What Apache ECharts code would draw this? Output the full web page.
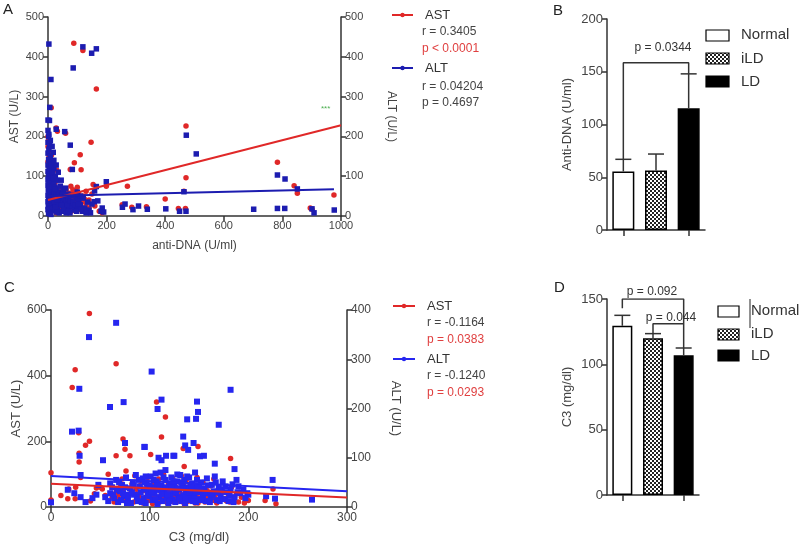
<!DOCTYPE html>
<html><head><meta charset="utf-8">
<script src="https://cdn.jsdelivr.net/npm/echarts@6/dist/echarts.min.js"></script>
<style>html,body{margin:0;padding:0;background:#fff}#c{width:800px;height:551px}</style>
</head><body><div id="c"></div>
<script>
// ---------- Panel A data (anti-DNA vs AST / ALT) ----------
const aAST = [[88,434],[119,416],[165,319],[11,272],[28,221],[32,213],[60,208],[147,185],[110,154],[90,134],[113,116],[30,115],[76,117],[471,226],[471,96],[783,135],[840,76],[851,57],[976,53],[895,20],[901,17],[400,43],[271,75],[253,28],[286,22],[336,23],[445,19],[469,19],[464,62],[199,75],[154,79],[0,200],[2,190],[4,176],[0,174],[8,160],[12,153],[6,140],[0,136],[3,125],[14,110],[20,100],[5,95],[10,88],[24,84],[18,78],[30,70],[40,66],[48,64],[55,66],[62,68],[70,58],[78,75],[85,66],[95,62],[105,55],[120,50],[130,30],[110,25],[95,22],[72,28],[60,35],[45,20],[35,30],[25,45],[15,55],[8,62],[3,50],[12,40],[20,18],[5,12],[28,8],[40,10],[50,42],[65,45],[88,40],[100,72],[140,40],[160,25],[175,12],[185,8],[80,12],[115,35],[130,62],[150,55],
[16,95],[22,70],[36,62],[44,55],[52,48],[58,58],[66,52],[75,48],[82,55],[90,50],[98,44],[108,45],[125,42],[26,35],[34,22],[42,28],[56,15],[64,20],[86,26],[102,15],[118,20],[140,20],[6,80],[2,110],[9,120],[4,150],[12,70],[18,60]];
const aALT = [[3,432],[119,425],[165,420],[149,409],[86,372],[10,343],[6,273],[0,241],[5,240],[28,218],[57,212],[76,178],[83,117],[472,203],[506,156],[783,103],[809,93],[851,68],[199,86],[159,63],[464,61],[254,22],[263,30],[290,16],[309,25],[339,17],[402,18],[449,12],[471,12],[702,17],[783,19],[808,19],[901,18],[908,8],[977,15],[181,12],[158,36],[165,74],[170,38],[185,20],[190,10],
[0,215],[2,200],[0,185],[6,178],[3,168],[0,158],[8,150],[2,142],[5,135],[0,128],[10,124],[4,118],[0,112],[7,108],[12,104],[2,100],[6,96],[0,92],[9,88],[14,85],[3,82],[0,78],[11,75],[5,72],[16,70],[1,66],[8,63],[13,60],[3,56],[0,52],[10,50],[6,46],[15,44],[2,40],[0,36],[9,34],[4,30],[12,27],[1,24],[7,20],[0,16],[14,14],[5,10],[2,6],[10,4],
[20,120],[25,100],[30,90],[18,95],[22,60],[28,55],[35,48],[40,60],[45,38],[50,30],[55,22],[32,15],[38,8],[48,12],[58,50],[60,25],[42,75],[26,30],[36,28],[52,65],
[65,40],[72,18],[80,30],[90,15],[100,22],[110,28],[118,12],[125,20],[135,35],[140,15],[145,8],[95,45],[105,40],[130,8],[85,52],[120,45],[150,30],[75,8],[68,55],
[20,80],[24,72],[30,66],[34,58],[38,52],[44,50],[50,55],[56,44],[62,36],[66,28],[70,44],[76,38],[82,24],[86,34],[92,28],[98,12],[104,30],[112,18],[18,40],[22,35],[26,22],[30,10],[40,32],[46,26],[54,14],[62,8],[70,12],[16,110],[12,130],[20,140],[18,160],[8,190],[14,175],[3,205],[24,68],[32,40],[100,60],[110,50],[60,70],[45,90],[35,110],[28,128]];
const aASTfit = [[0,40],[1000,228]];
const aALTfit = [[0,50],[976,67]];

// ---------- Panel B data ----------
const groups = ['Normal','iLD','LD'];
const bMean = [55.5, 56.5, 115.5];
const bUpper = [67, 72, 148];
const bBracket = [[0,67],[0,158.5],[2,158.5],[2,148]];

// ---------- Panel C data (C3 vs AST / ALT) ----------
const cAST = [[38.9,589],[66,436],[24.5,418],[21.5,364],[28,226],[39,200],[35,188],[28.5,164],[28.5,137],[107,320],[112,213],[116,274],[101,160],[182,148],[0,104],[0,21],[17,25],[24.5,25],[73,207],[75,176],[80,156],[66,156],[58,100],[46,58],[52,55],[134,178],[135,123],[149,184],
[62,30],[66,45],[70,60],[72,85],[74,20],[76,110],[78,35],[80,55],[82,70],[84,15],[85,95],[87,40],[88,25],[90,65],[92,80],[93,12],[95,50],[96,30],[98,90],[99,20],[100,60],[102,42],[103,10],[104,75],[105,35],[106,55],[108,25],[109,85],[110,15],[111,48],[112,65],[113,30],[114,100],[115,20],[116,58],[117,40],[118,12],[119,72],[120,35],[121,50],[122,22],[123,88],[124,45],[125,15],[126,62],[127,30],[128,78],[129,18],[130,52],[131,38],[132,95],[133,25],[134,68],[135,10],[136,44],[137,82],[138,28],[139,56],[140,18],[141,70],[142,35],[143,48],[144,22],[145,60],[146,12],[147,40],[148,90],[149,28],[150,55],[152,20],[154,75],[155,35],[156,15],[158,50],[160,30],[162,65],[164,20],[165,85],[167,40],[168,12],[170,55],[172,25],[175,45],[178,18],[180,35],[183,60],[185,22],[188,40],[190,15],[193,30],[196,12],[198,25],[200,20],[217,20],[225,55],[228,10],[68,25],[55,35],[50,60],[44,40],[40,18],[30,90],[25,60],[18,55],[10,35],
[64,15],[69,38],[73,52],[77,25],[81,42],[86,55],[89,32],[94,22],[97,68],[101,28],[105,18],[107,70],[111,32],[113,50],[117,25],[121,65],[125,38],[129,45],[133,58],[137,15],[141,30],[145,48],[149,12],[153,38],[157,28],[161,45],[166,30],[171,38],[176,25],[181,15],[186,30],[191,45]];
const cALT = [[66,374],[38.5,345],[102,275],[28.7,240],[112,218],[108,199],[73.6,213],[59.8,203],[148,214],[149,193],[147,179],[182,238],[170,167],[21.3,153],[28,155],[29,104],[136,125],[75,130],[94.6,122],[116.6,104],[124,104],[139,116],[151,103],[155,104],[166,88],[186,77],[52.7,95],[30,65],[17,35],[23.6,28],[0,9.5],[227,17],[224.6,55],[264.5,15],[218,22],[199,28],[134,143],[144.5,130],[112,95],[109,100],[125,104],[138,178],[95,122],
[55,20],[58,12],[60,28],[62,40],[64,18],[66,55],[68,10],[70,32],[72,45],[74,22],[76,60],[78,15],[80,38],[81,8],[83,50],[85,25],[86,65],[88,12],[90,42],[91,30],[93,58],[94,18],[96,8],[97,48],[99,35],[100,22],[101,62],[103,14],[104,40],[105,28],[107,52],[108,6],[109,36],[110,20],[111,70],[112,44],[113,12],[115,30],[116,55],[117,18],[118,38],[119,8],[120,48],[121,25],[122,60],[123,15],[124,34],[125,42],[126,10],[127,28],[128,52],[129,20],[130,36],[131,65],[132,12],[133,45],[134,24],[135,55],[136,8],[137,32],[138,40],[139,18],[140,60],[141,26],[142,14],[143,48],[144,36],[145,22],[146,70],[147,10],[148,42],[150,30],[151,16],[152,50],[154,24],[155,38],[157,12],[158,58],[160,28],[162,20],[163,45],[165,32],[166,62],[168,14],[170,40],[172,22],[174,52],[176,16],[178,30],[180,12],[182,36],[184,46],[186,20],[188,55],[190,42],[192,28],[195,35],[197,18],[200,25],[46,25],[42,18],[35,10],[30,20],[48,45],
[60,48],[63,25],[67,35],[69,50],[71,14],[73,28],[75,40],[77,8],[79,25],[82,30],[84,44],[87,20],[89,55],[92,10],[94,36],[95,50],[98,26],[100,44],[102,32],[104,55],[106,16],[108,46],[110,35],[112,26],[114,60],[116,40],[118,26],[120,12],[122,40],[124,52],[126,30],[128,38],[130,18],[132,50],[134,38],[136,20],[138,62],[140,30],[142,42],[144,12],[146,30],[148,55],[150,40],[153,14],[156,30],[159,44],[161,10],[164,26],[167,50],[169,30],[171,12],[173,36],[177,42],[181,24],[185,10],[189,30],[96,62],[106,68],[116,75],[128,66]];
const cASTfit = [[0,71],[300,29]];
const cALTfit = [[0,63],[300,32]];

// ---------- Panel D data ----------
const dMean = [129.5, 120, 107];
const dUpper = [137.5, 123.5, 112.5];
const dBracket1 = [[0,143],[0,150],[2,150],[2,112.5]];
const dBracket2 = [[1,123.5],[1,131],[2,131]];

// ---------- styling ----------
const FONT = 'Liberation Sans, Arial, sans-serif';
const RED = '#e02828', BLUE_A = '#1c1cb0', BLUE_C = '#2626f0', AX = '#333', TXT = '#444';

const pc = document.createElement('canvas'); pc.width = 4; pc.height = 4;
const g = pc.getContext('2d'); g.fillStyle = '#fff'; g.fillRect(0,0,4,4);
g.fillStyle = '#222'; g.fillRect(0,0,2,2); g.fillRect(2,2,2,2);
const PATTERN = {image: pc, repeat: 'repeat'};
const barFills = ['#fff', PATTERN, '#000'];
const plain = v => String(v);

function vAxis(extra) {
  return Object.assign({
    type: 'value', nameLocation: 'middle',
    axisLine: {show: true, onZero: false, lineStyle: {color: AX, width: 1.5}},
    axisTick: {show: true, length: 5, lineStyle: {color: AX, width: 1.5}},
    axisLabel: {color: TXT, fontSize: 11, fontFamily: FONT, margin: 4, formatter: plain},
    splitLine: {show: false},
    nameTextStyle: {color: TXT, fontSize: 12, fontFamily: FONT}
  }, extra);
}
function lab(size, margin) { return {color: TXT, fontSize: size, fontFamily: FONT, margin: margin, formatter: plain}; }
function nts(size) { return {color: TXT, fontSize: size, fontFamily: FONT}; }
function cAxis(gi) {
  return {type: 'category', gridIndex: gi, data: groups,
    axisLine: {show: true, onZero: false, lineStyle: {color: AX, width: 1.5}},
    axisTick: {show: true, alignWithLabel: true, length: 6, lineStyle: {color: AX, width: 1.5}},
    axisLabel: {show: false}, splitLine: {show: false}};
}
function errSeries(xi, yi, mean, upper) {
  return {type: 'custom', xAxisIndex: xi, yAxisIndex: yi, z: 5,
    data: mean.map((m, i) => [i, m, upper[i]]),
    renderItem: function (params, api) {
      const b = api.coord([api.value(0), api.value(1)]);
      const t = api.coord([api.value(0), api.value(2)]);
      const st = {stroke: AX, lineWidth: 1.5};
      return {type: 'group', children: [
        {type: 'line', shape: {x1: b[0], y1: b[1], x2: t[0], y2: t[1]}, style: st},
        {type: 'line', shape: {x1: t[0] - 8, y1: t[1], x2: t[0] + 8, y2: t[1]}, style: st}
      ]};
    }};
}
function lineSeries(xi, yi, data, color, w) {
  return {type: 'line', xAxisIndex: xi, yAxisIndex: yi, data: data, symbol: 'none', silent: true,
    lineStyle: {color: color, width: w}, z: 6, animation: false};
}
function txt(x, y, s, size, color, align) {
  return {type: 'text', x: x, y: y, style: {text: s, fill: color || TXT, font: (size || 12) + 'px ' + FONT, textAlign: align || 'left', textVerticalAlign: 'middle'}};
}
function legLine(x1, x2, y, color) {
  return [{type: 'line', shape: {x1: x1, y1: y, x2: x2, y2: y}, style: {stroke: color, lineWidth: 2}},
          {type: 'circle', shape: {cx: (x1 + x2) / 2, cy: y, r: 2.2}, style: {fill: color}}];
}
function box(x, y, w, h, fill) {
  return {type: 'rect', shape: {x: x, y: y, width: w, height: h}, style: {fill: fill, stroke: '#000', lineWidth: 1.2}};
}

const chart = echarts.init(document.getElementById('c'), null, {renderer: 'canvas'});
chart.setOption({
  animation: false,
  textStyle: {fontFamily: FONT},
  grid: [
    {left: 48, top: 17, width: 293, height: 199},
    {left: 607, top: 19, width: 98, height: 211},
    {left: 51, top: 310, width: 296, height: 197},
    {left: 607, top: 299, width: 92, height: 196}
  ],
  xAxis: [
    vAxis({gridIndex: 0, min: 0, max: 1000, interval: 200, name: 'anti-DNA (U/ml)', nameGap: 24}),
    cAxis(1),
    vAxis({gridIndex: 2, min: 0, max: 300, interval: 100, name: 'C3 (mg/dl)', nameGap: 24, nameTextStyle: nts(13), axisLabel: lab(12, 5)}),
    cAxis(3)
  ],
  yAxis: [
    vAxis({gridIndex: 0, min: 0, max: 500, interval: 100, name: 'AST (U/L)', nameGap: 27}),
    vAxis({gridIndex: 0, min: 0, max: 500, interval: 100, position: 'right', name: 'ALT (U/L)', nameGap: 44, nameRotate: -90}),
    vAxis({gridIndex: 1, min: 0, max: 200, interval: 50, name: 'Anti-DNA (U/ml)', nameGap: 33, axisLabel: lab(13, 4), nameTextStyle: nts(13)}),
    vAxis({gridIndex: 2, min: 0, max: 600, interval: 200, name: 'AST (U/L)', nameGap: 28, axisLabel: lab(12, 4), nameTextStyle: nts(13)}),
    vAxis({gridIndex: 2, min: 0, max: 400, interval: 100, position: 'right', name: 'ALT (U/L)', nameGap: 42, nameRotate: -90, axisLabel: lab(12, 4), nameTextStyle: nts(13)}),
    vAxis({gridIndex: 3, min: 0, max: 150, interval: 50, name: 'C3 (mg/dl)', nameGap: 33, axisLabel: lab(13, 4), nameTextStyle: nts(13)})
  ],
  series: [
    {type: 'scatter', xAxisIndex: 0, yAxisIndex: 0, data: aAST, symbol: 'circle', symbolSize: 5.5, itemStyle: {color: RED, opacity: 1}},
    {type: 'scatter', xAxisIndex: 0, yAxisIndex: 1, data: aALT, symbol: 'rect', symbolSize: 5.5, itemStyle: {color: BLUE_A, opacity: 1}},
    lineSeries(0, 0, aASTfit, RED, 2),
    lineSeries(0, 1, aALTfit, BLUE_A, 2),
    {type: 'bar', xAxisIndex: 1, yAxisIndex: 2, barWidth: 22, z: 3,
      data: bMean.map((v, i) => ({value: v, itemStyle: {color: barFills[i], borderColor: '#000', borderWidth: 1.5}}))},
    errSeries(1, 2, bMean, bUpper),
    lineSeries(1, 2, bBracket, AX, 1.5),
    {type: 'scatter', xAxisIndex: 2, yAxisIndex: 3, data: cAST, symbol: 'circle', symbolSize: 5.5, itemStyle: {color: RED, opacity: 1}},
    {type: 'scatter', xAxisIndex: 2, yAxisIndex: 4, data: cALT, symbol: 'rect', symbolSize: 6, itemStyle: {color: BLUE_C, opacity: 1}},
    lineSeries(2, 4, cALTfit, BLUE_C, 2),
    lineSeries(2, 3, cASTfit, RED, 2),
    {type: 'bar', xAxisIndex: 3, yAxisIndex: 5, barWidth: 20, z: 3,
      data: dMean.map((v, i) => ({value: v, itemStyle: {color: barFills[i], borderColor: '#000', borderWidth: 1.5}}))},
    errSeries(3, 5, dMean, dUpper),
    lineSeries(3, 5, dBracket1, AX, 1.5),
    lineSeries(3, 5, dBracket2, AX, 1.5)
  ],
  graphic: [
    txt(3, 10, 'A', 15, '#222'), txt(553, 11, 'B', 15, '#222'),
    txt(4, 288, 'C', 15, '#222'), txt(554, 288, 'D', 15, '#222'),
    txt(321, 109, '***', 8, '#4caf50'),
    // legend A
    ...legLine(392, 413, 15, RED), txt(425, 15, 'AST', 13, '#333'),
    txt(422, 32, 'r = 0.3405', 12, '#444'), txt(422, 49, 'p < 0.0001', 12, '#e04040'),
    ...legLine(392, 413, 68, BLUE_A), txt(425, 68, 'ALT', 13, '#333'),
    txt(422, 87, 'r = 0.04204', 12, '#444'), txt(422, 103, 'p = 0.4697', 12, '#444'),
    // legend C
    ...legLine(393, 415, 306, RED), txt(427, 306, 'AST', 13, '#333'),
    txt(427, 323, 'r = -0.1164', 12, '#444'), txt(427, 340, 'p = 0.0383', 12, '#e04040'),
    ...legLine(393, 415, 359, BLUE_C), txt(427, 359, 'ALT', 13, '#333'),
    txt(427, 376, 'r = -0.1240', 12, '#444'), txt(427, 393, 'p = 0.0293', 12, '#e04040'),
    // panel B annotations & legend
    txt(663, 48, 'p = 0.0344', 12, '#333', 'center'),
    box(706, 30, 23, 11, '#fff'), box(706, 53, 23, 11, PATTERN), box(706, 76, 23, 11, '#000'),
    txt(741, 35, 'Normal', 15, '#333'), txt(741, 59, 'iLD', 15, '#333'), txt(741, 82, 'LD', 15, '#333'),
    // panel D annotations & legend
    txt(652, 292, 'p = 0.092', 12, '#333', 'center'),
    txt(671, 318, 'p = 0.044', 12, '#333', 'center'),
    box(718, 306, 21, 11, '#fff'), box(718, 329, 21, 11, PATTERN), box(718, 350, 21, 11, '#000'),
    {type: 'line', shape: {x1: 750, y1: 299, x2: 750, y2: 328}, style: {stroke: '#222', lineWidth: 1}},
    txt(751, 311, 'Normal', 15, '#333'), txt(751, 334, 'iLD', 15, '#333'), txt(751, 356, 'LD', 15, '#333')
  ]
});
</script></body></html>
